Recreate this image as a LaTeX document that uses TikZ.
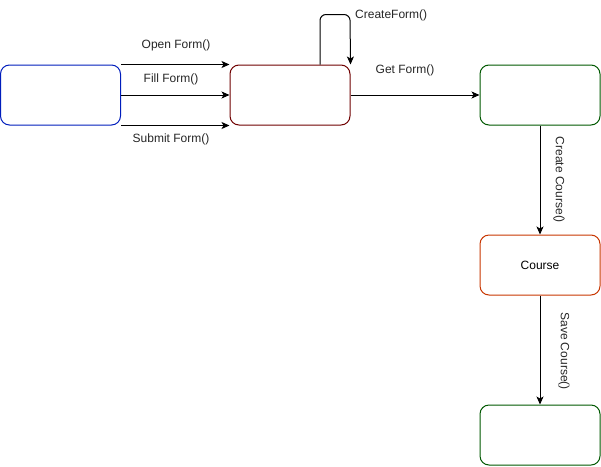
\documentclass[tikz,border=0pt]{standalone}
\usepackage{fontspec}
\setmainfont{Liberation Sans}
\usetikzlibrary{arrows.meta}
\definecolor{cblue}{HTML}{001DBC}
\definecolor{cred}{HTML}{6F0000}
\definecolor{cgreen}{HTML}{005700}
\definecolor{corange}{HTML}{C73500}
\begin{document}
\begin{tikzpicture}[x=1pt,y=-1pt,
  box/.style={draw,line width=1pt,rounded corners=9pt,minimum width=120pt,minimum height=60pt,inner sep=0pt,font=\fontsize{12}{14}\selectfont},
  arr/.style={draw,line width=1pt,-{Stealth[length=8pt,width=7pt,inset=2pt]}},
  lbl/.style={font=\fontsize{12}{14}\selectfont,inner sep=1pt,text=black!85}]
\useasboundingbox (0,0) rectangle (601,466);
\node[box,draw=cblue] (a) at (60.5,95) {};
\node[box,draw=cred] (b) at (290,95) {};
\node[box,draw=cgreen] (c) at (540,95) {};
\node[box,draw=corange] (d) at (540,265) {Course};
\node[box,draw=cgreen] (e) at (540,435) {};
\draw[arr] (a.north east) -- (b.north west);
\draw[arr] (a.east) -- (b.west);
\draw[arr] (a.south east) -- (b.south west);
\draw[arr,rounded corners=6pt] ([xshift=30pt]b.north) -- ++(0,-50) -- ++(30,0) -- (b.north east);
\draw[arr] (b.east) -- (c.west);
\draw[arr] (c.south) -- (d.north);
\draw[arr] (d.south) -- (e.north);
\node[lbl] (l1) at (176,45) {Open Form()};
\node[lbl] (l2) at (171,79) {Fill Form()};
\node[lbl] (l3) at (171,139) {Submit Form()};
\node[lbl,anchor=west] (l4) at (354,15) {CreateForm()};
\node[lbl] (l5) at (405,70) {Get Form()};
\node[lbl,rotate=-90] (l6) at (559,180) {Create Course()};
\node[lbl,rotate=-90] (l7) at (564,351) {Save Course()};
\end{tikzpicture}
\end{document}
